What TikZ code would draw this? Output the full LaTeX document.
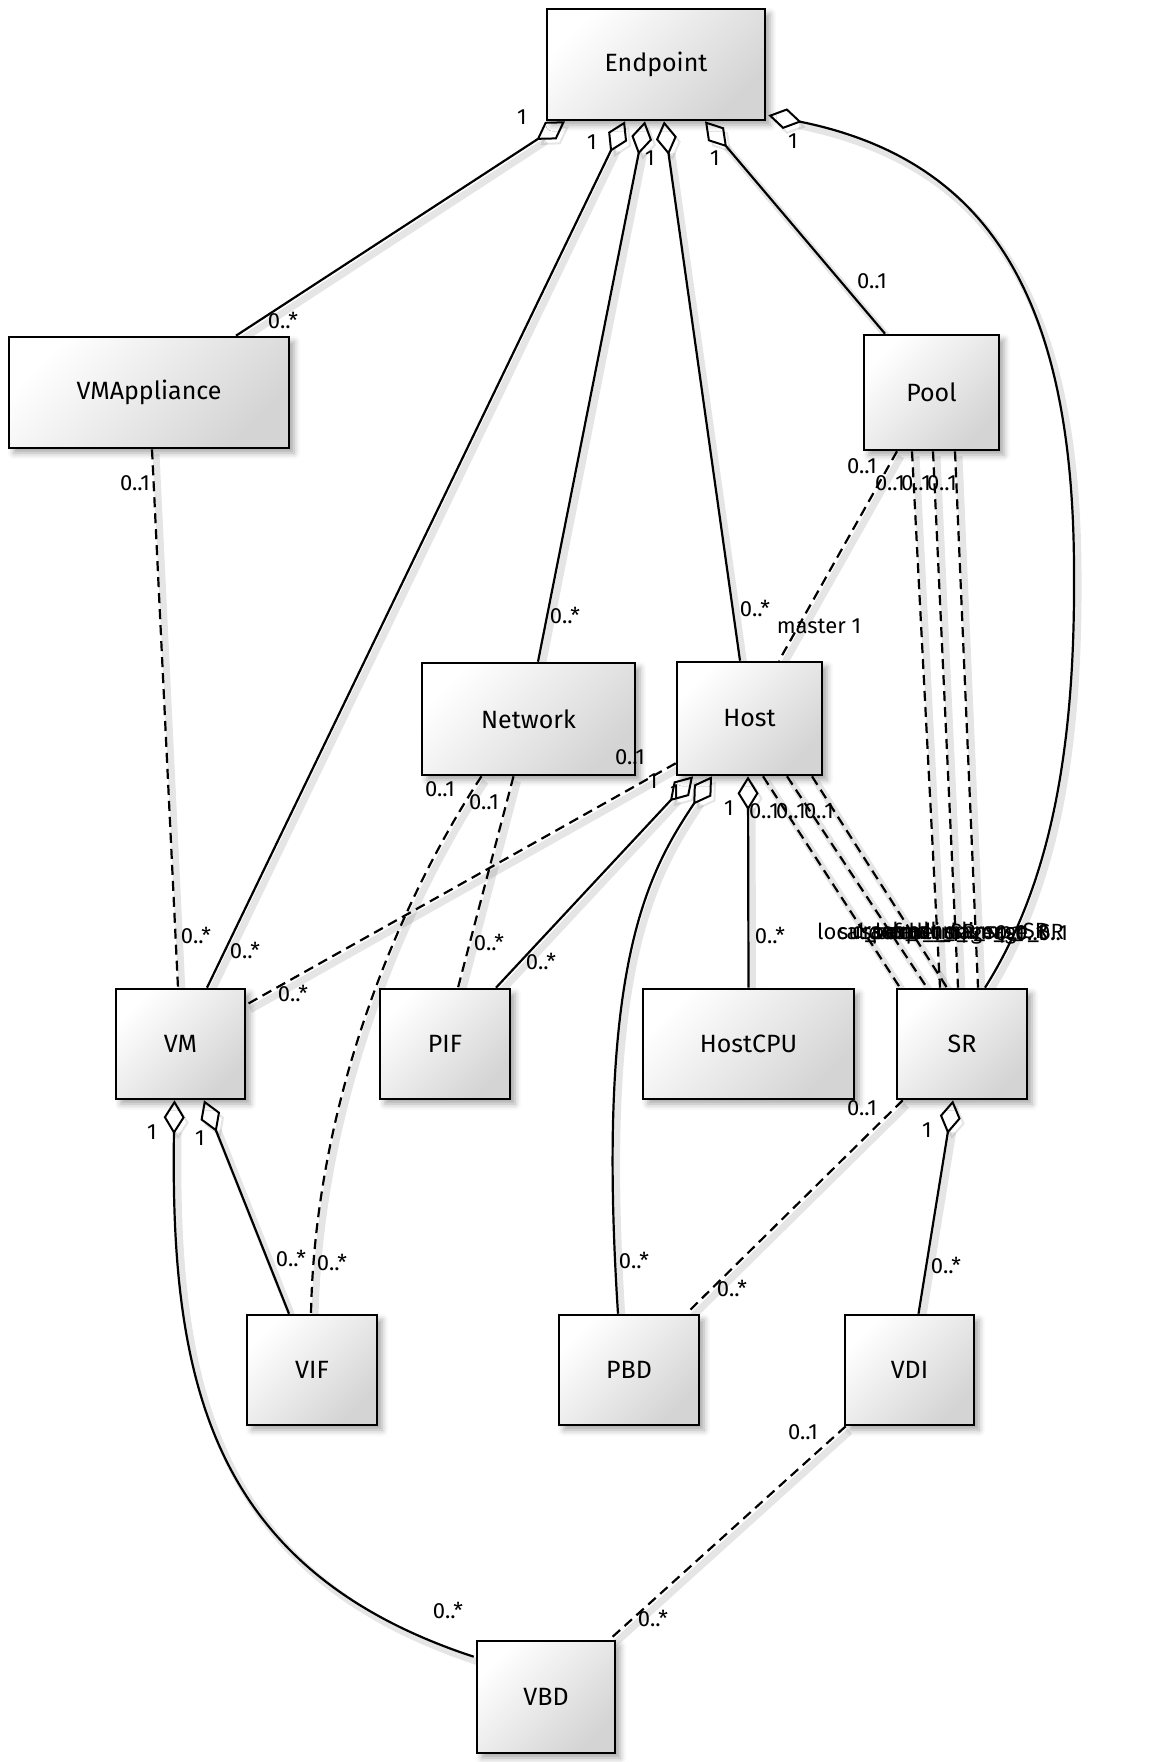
\documentclass[tikz,border=0pt]{standalone}
\usepackage{fontspec}
\setmainfont{Fira Sans}
\usetikzlibrary{arrows.meta,calc,shadows.blur}
\pgfdeclarelayer{links}
\pgfsetlayers{links,main}

\tikzset{aggtip/.tip={Diamond[fill=white,length=34pt,width=21pt,line width=2pt]}}

\begin{document}
\begin{tikzpicture}[x=1pt,y=-1pt,
  cls/.style={draw=black, line width=2.6pt, shading=axis, top color=white,
    bottom color=black!17, shading angle=45,
    blur shadow={shadow xshift=5pt, shadow yshift=-5pt, shadow blur radius=6pt, shadow opacity=35},
    font=\fontsize{25}{29}\selectfont, inner sep=0pt},
  assoc/.style={line width=2.2pt,
    preaction={draw=black, opacity=0.10, line width=7pt, solid,
      transform canvas={shift={(4pt,-5pt)}}}},
  dep/.style={assoc, dash pattern=on 10pt off 6pt},
  agg/.style={aggtip-},
  lab/.style={font=\fontsize{22}{24}\selectfont, inner sep=0pt},
  role/.style={lab, anchor=west}]

\useasboundingbox (0,0) rectangle (1152,1762);

% classes
\node[cls, minimum width=218pt, minimum height=111pt] (ep)   at (656,64.5)   {Endpoint};
\node[cls, minimum width=280pt, minimum height=111pt] (vma)  at (149,392.5)  {VMAppliance};
\node[cls, minimum width=135pt, minimum height=115pt] (pool) at (931.5,392.5) {Pool};
\node[cls, minimum width=213pt, minimum height=112pt] (net)  at (528.5,719)  {Network};
\node[cls, minimum width=145pt, minimum height=113pt] (host) at (749.5,718.5) {Host};
\node[cls, minimum width=129pt, minimum height=110pt] (vm)   at (180.5,1044) {VM};
\node[cls, minimum width=130pt, minimum height=110pt] (pif)  at (445,1044)   {PIF};
\node[cls, minimum width=211pt, minimum height=110pt] (cpu)  at (748.5,1044) {HostCPU};
\node[cls, minimum width=130pt, minimum height=110pt] (sr)   at (962,1044)   {SR};
\node[cls, minimum width=130pt, minimum height=110pt] (vif)  at (312,1370)   {VIF};
\node[cls, minimum width=140pt, minimum height=110pt] (pbd)  at (629,1370)   {PBD};
\node[cls, minimum width=129pt, minimum height=110pt] (vdi)  at (909.5,1370) {VDI};
\node[cls, minimum width=138pt, minimum height=112pt] (vbd)  at (546,1697)   {VBD};

\begin{pgfonlayer}{links}
% Endpoint aggregations
\draw[assoc, agg] ($(ep.south)+(-91,0)$) -- ($(vma.north)+(87,0)$);
\draw[assoc, agg] ($(ep.south)+(-31,0)$) -- ($(vm.north)+(26.5,0)$);
\draw[assoc, agg] ($(ep.south)+(-11,0)$) -- ($(net.north)+(9.5,0)$);
\draw[assoc, agg] ($(ep.south)+(8,0)$) -- ($(host.north)+(-9.5,0)$);
\draw[assoc, agg] ($(ep.south)+(49,0)$) -- ($(pool.north)+(-46.5,0)$);
\draw[assoc, agg] ($(ep.south east)+(2,-6)$) .. controls (990,160) and (1075,300) .. (1074,578)
  .. controls (1075,780) and (1040,900) .. ($(sr.north)+(23,0)$);

% dependencies
\draw[dep] ($(vma.south)+(3,0)$) -- ($(vm.north)+(-2.5,0)$);
\draw[dep] ($(pool.south)+(-34.5,0)$) -- ($(host.north)+(29.5,0)$);
\draw[dep] ($(pool.south)+(-19.5,0)$) -- ($(sr.north)+(-22,0)$);
\draw[dep] ($(pool.south)+(1.5,0)$) -- ($(sr.north)+(-4,0)$);
\draw[dep] ($(pool.south)+(23.5,0)$) -- ($(sr.north)+(16,0)$);
\draw[dep] ($(host.south)+(13.5,0)$) -- ($(sr.north)+(-62,0)$);
\draw[dep] ($(host.south)+(37.5,0)$) -- ($(sr.north)+(-35,0)$);
\draw[dep] ($(host.south)+(62.5,0)$) -- ($(sr.north)+(-15,0)$);
\draw[dep] ($(host.south west)+(0,-13)$) -- ($(vm.north east)+(0,17)$);
\draw[dep] ($(net.south)+(-15,0)$) -- ($(pif.north)+(13,0)$);
\draw[dep] ($(net.south)+(-47,0)$) .. controls (400,900) and (315,1100) .. ($(vif.north)+(-1,0)$);
\draw[dep] ($(sr.south west)+(7,0)$) -- ($(pbd.north east)+(-14,0)$);
\draw[dep] ($(vdi.south west)+(2,0)$) -- ($(vbd.north east)+(-7,0)$);

% Host, VM and SR aggregations
\draw[assoc, agg] ($(host.south)+(-56.5,0)$) -- ($(pif.north)+(51,0)$);
\draw[assoc, agg] ($(host.south)+(-37.5,0)$) .. controls (650,870) and (595,960) .. ($(pbd.north)+(-11,0)$);
\draw[assoc, agg] ($(host.south)+(-1.5,0)$) -- (cpu.north);
\draw[assoc, agg] ($(vm.south)+(-6,0)$) .. controls (170,1380) and (210,1570) .. ($(vbd.north west)+(-2,17)$);
\draw[assoc, agg] ($(vm.south)+(23.5,0)$) -- ($(vif.north)+(-23,0)$);
\draw[assoc, agg] ($(sr.south)+(-9,0)$) -- ($(vdi.north)+(9,0)$);
\end{pgfonlayer}

% multiplicities at Endpoint
\node[lab] (e1) at (522,117) {1};
\node[lab] (e2) at (592,142) {1};
\node[lab] (e3) at (650,158) {1};
\node[lab] (e4) at (715,158) {1};
\node[lab] (e5) at (793,141) {1};
\node[lab] (m1) at (283,320) {0..*};
\node[lab] (m2) at (135,483) {0..1};
\node[lab] (m3) at (196,935) {0..*};
\node[lab] (m4) at (245,950) {0..*};
\node[lab] (m5) at (565,615) {0..*};
\node[lab] (m6) at (755,608) {0..*};
\node[lab] (m7) at (872,281) {0..1};

% Pool ends
\node[lab] (p1) at (862,466) {0..1};
\node[lab] (p2) at (890,483) {0..1};
\node[lab] (p3) at (916,483) {0..1};
\node[lab] (p4) at (942,483) {0..1};
\node[lab] (p5) at (819,626) {master 1};

% Network and Host ends
\node[lab] (n1) at (630,757) {0..1};
\node[lab] (n2) at (653,781) {1};
\node[lab] (n3) at (440,789) {0..1};
\node[lab] (n4) at (484,802) {0..1};
\node[lab] (h1) at (675,792) {1};
\node[lab] (h2) at (729,808) {1};
\node[lab] (h3) at (764,811) {0..1};
\node[lab] (h4) at (791,811) {0..1};
\node[lab] (h5) at (819,811) {0..1};
\node[lab] (h6) at (770,935) {0..*};

% VM and PIF ends
\node[lab] (v1) at (293,993) {0..*};
\node[lab] (v2) at (489,942) {0..*};
\node[lab] (v3) at (541,961) {0..*};

% SR role names
\node[role] (r1) at (817,933) {local\_cache\_sr};
\node[role] (r2) at (838,933) {suspend\_image\_sr};
\node[role] (r3) at (852,933) {crash\_dump\_sr};
\node[role] (r4) at (868,933) {default\_SR};
\node[role] (r5) at (872,933) {suspend\_image\_SR};
\node[role] (r6) at (890,933) {crash\_dump\_SR};
\node[role] (r7) at (995,933) {0..1};
\node[role] (r8) at (1015,933) {0..1};
\node[role] (r9) at (1038,933) {0..1};

% lower ends
\node[lab] (s1) at (862,1108) {0..1};
\node[lab] (s2) at (927,1130) {1};
\node[lab] (s3) at (152,1132) {1};
\node[lab] (s4) at (200,1138) {1};
\node[lab] (s5) at (291,1258) {0..*};
\node[lab] (s6) at (332,1262) {0..*};
\node[lab] (s7) at (634,1260) {0..*};
\node[lab] (s8) at (732,1288) {0..*};
\node[lab] (s9) at (946,1265) {0..*};
\node[lab] (s10) at (803,1432) {0..1};
\node[lab] (s11) at (448,1610) {0..*};
\node[lab] (s12) at (653,1618) {0..*};

\end{tikzpicture}
\end{document}
